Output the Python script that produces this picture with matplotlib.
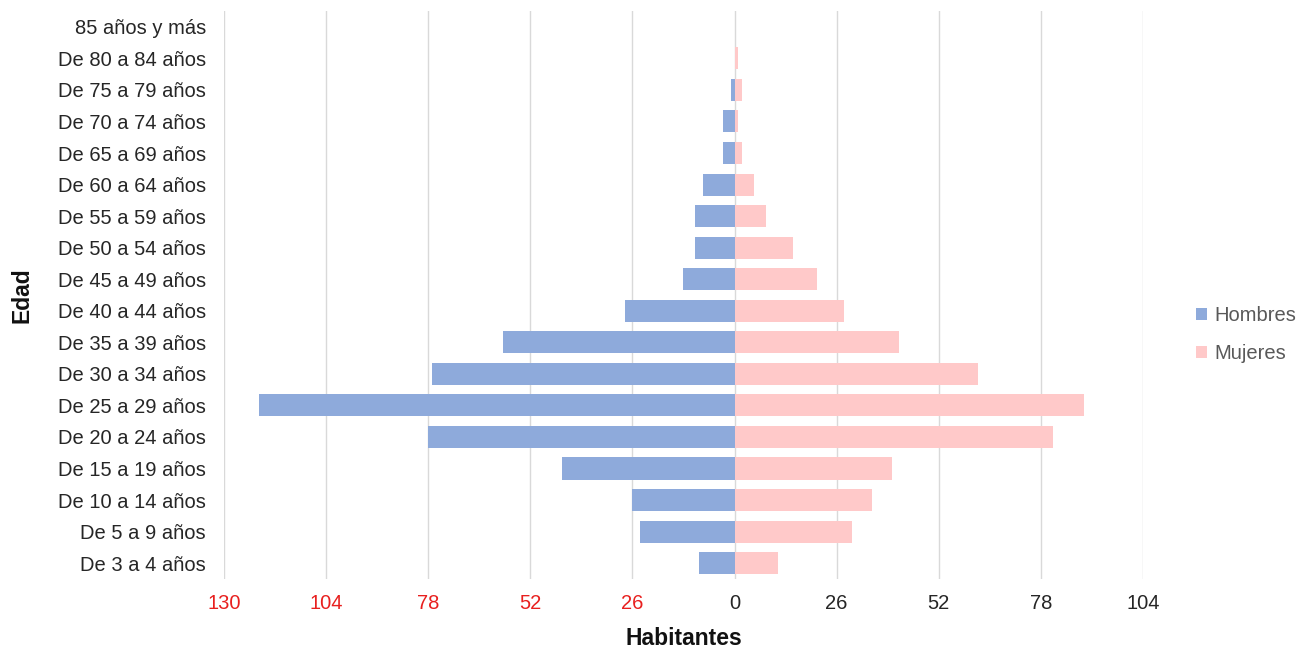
import matplotlib
matplotlib.use('Agg')
import matplotlib.pyplot as plt
from matplotlib.ticker import FixedLocator, FuncFormatter
import numpy as np

plt.rcParams['font.family'] = ['Liberation Sans', 'DejaVu Sans']

# Grupos de edad (de arriba hacia abajo, como en el original)
edades = [
    '85 años y más', 'De 80 a 84 años', 'De 75 a 79 años', 'De 70 a 74 años',
    'De 65 a 69 años', 'De 60 a 64 años', 'De 55 a 59 años', 'De 50 a 54 años',
    'De 45 a 49 años', 'De 40 a 44 años', 'De 35 a 39 años', 'De 30 a 34 años',
    'De 25 a 29 años', 'De 20 a 24 años', 'De 15 a 19 años', 'De 10 a 14 años',
    'De 5 a 9 años', 'De 3 a 4 años',
]
hombres = [0, 0, 1, 3, 3, 8, 10, 10, 13, 28, 59, 77, 121, 78, 44, 26, 24, 9]
mujeres = [0, 1, 2, 1, 2, 5, 8, 15, 21, 28, 42, 62, 89, 81, 40, 35, 30, 11]

xticks = [-130, -104, -78, -52, -26, 0, 26, 52, 78, 104]

color_h = '#8eaadb'
color_m = '#ffc9c9'

fig = plt.figure(figsize=(13, 6.49), dpi=100)
ax = fig.add_axes([0.1723, 0.108, 0.7069, 0.875])

y = np.arange(len(edades))[::-1]
ax.barh(y, [-v for v in hombres], height=0.7, color=color_h, label='Hombres', zorder=2)
ax.barh(y, mujeres, height=0.7, color=color_m, label='Mujeres', zorder=2)

ax.set_xlim(-130, 104)
ax.set_ylim(-0.5, len(edades) - 0.5)

ax.xaxis.set_major_locator(FixedLocator(xticks))
ax.xaxis.set_major_formatter(FuncFormatter(lambda v, p: f'{abs(int(round(v)))}'))
ax.grid(axis='x', color='#d9d9d9', linewidth=1.0, zorder=0)

ax.set_yticks(y)
ax.set_yticklabels(edades)

for s in ax.spines.values():
    s.set_visible(False)

ax.tick_params(axis='y', length=0, pad=13, labelsize=14.5, labelcolor='#262626')
ax.tick_params(axis='x', length=0, pad=11, labelsize=14.5, labelcolor='#262626')
for lab, v in zip(ax.get_xticklabels(), xticks):
    if v < 0:
        lab.set_color('#e8201f')

ax.set_xlabel('Habitantes', fontsize=16.5, fontweight='bold', color='#111111', va='top')
ax.xaxis.set_label_coords(0.5, -0.085)
ax.set_ylabel('Edad', fontsize=16.5, fontweight='bold', color='#111111')
ax.yaxis.set_label_coords(-0.207, 0.5)

leg = ax.legend(loc='center left', bbox_to_anchor=(1.058, 0.43), frameon=False,
                fontsize=14.5, handlelength=0.55, handleheight=0.55,
                handletextpad=0.35, labelspacing=0.95, borderaxespad=0, borderpad=0)
for t in leg.get_texts():
    t.set_color('#595959')

fig.savefig('out.png', dpi=100)
